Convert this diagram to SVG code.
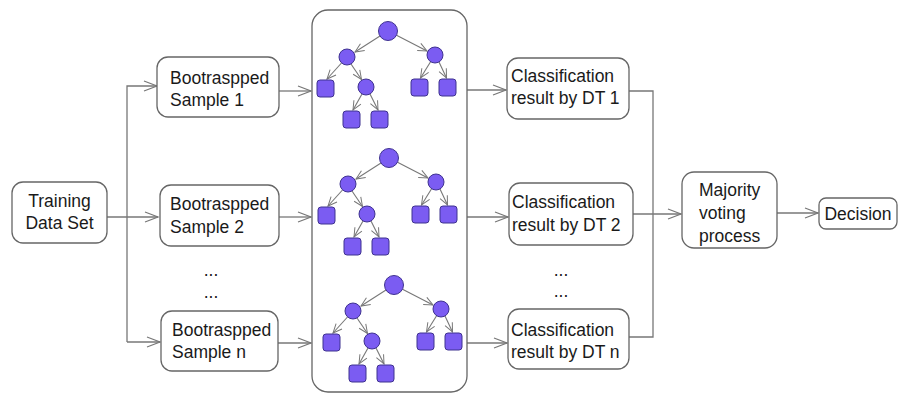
<svg xmlns="http://www.w3.org/2000/svg" xmlns:xlink="http://www.w3.org/1999/xlink" width="901" height="394" viewBox="0 0 901 394">
<style>
.box{fill:#fff;stroke:#666;stroke-width:1.3}
.t{font-family:"Liberation Sans",Arial,sans-serif;font-size:17.5px;fill:#1a1a1a}
.c{fill:none;stroke:#777;stroke-width:1.3}
.e{fill:none;stroke:#777;stroke-width:1.1}
.n{fill:#7b5cf2;stroke:#3f3290;stroke-width:1}
</style>
<defs>
<marker id="a" markerUnits="userSpaceOnUse" markerWidth="16" markerHeight="14" refX="14" refY="6" orient="auto">
<path d="M1,1 L14,6 L1,11" fill="none" stroke="#777" stroke-width="1.2"/>
</marker>
<marker id="s" markerUnits="userSpaceOnUse" markerWidth="12" markerHeight="12" refX="10" refY="5" orient="auto">
<path d="M1,1 L10,5 L1,9" fill="none" stroke="#777" stroke-width="1"/>
</marker>
<g id="tree">
<g class="e" marker-end="url(#s)">
<path d="M380,36 L355,52"/>
<path d="M396.5,35.3 L427,51"/>
<path d="M341.5,63 L327,79"/>
<path d="M351,64 L361.5,79.5"/>
<path d="M362,94 L353,110"/>
<path d="M370,94 L378,110"/>
<path d="M430.6,61.7 L420.5,78"/>
<path d="M439,62 L446.5,78"/>
</g>
<circle class="n" cx="388" cy="31" r="9.5"/>
<circle class="n" cx="347" cy="57" r="8"/>
<circle class="n" cx="435" cy="55" r="8"/>
<circle class="n" cx="366" cy="87" r="8"/>
<rect class="n" x="317" y="80" width="17" height="17" rx="3"/>
<rect class="n" x="343" y="111" width="17" height="17" rx="3"/>
<rect class="n" x="371" y="111" width="17" height="17" rx="3"/>
<rect class="n" x="411" y="79" width="17" height="17" rx="3"/>
<rect class="n" x="439" y="79" width="17" height="17" rx="3"/>
</g>
</defs>

<g id="connectors">
<path class="c" d="M107,217 L158,217" marker-end="url(#a)"/>
<path class="c" d="M127,342 L127,86 L157,86" marker-end="url(#a)"/>
<path class="c" d="M127,342 L160,342" marker-end="url(#a)"/>
<path class="c" d="M279,91 L311,91" marker-end="url(#a)"/>
<path class="c" d="M279,217 L311,217" marker-end="url(#a)"/>
<path class="c" d="M278,343 L311,343" marker-end="url(#a)"/>
<path class="c" d="M467,90 L506,90" marker-end="url(#a)"/>
<path class="c" d="M467,217 L508,217" marker-end="url(#a)"/>
<path class="c" d="M467,343 L507,343" marker-end="url(#a)"/>
<path class="c" d="M629,91 L653,91 L653,337 L629,337"/>
<path class="c" d="M633,214 L681,214" marker-end="url(#a)"/>
<path class="c" d="M777,213 L818,213" marker-end="url(#a)"/>
</g>

<g id="training">
<rect class="box" x="12" y="182" width="95" height="61" rx="11"/>
<text class="t" x="59.5" y="207" text-anchor="middle">Training</text>
<text class="t" x="59.5" y="229" text-anchor="middle">Data Set</text>
</g>

<g id="sample1">
<rect class="box" x="157" y="57" width="122" height="60" rx="11"/>
<text class="t" x="170" y="84">Bootraspped</text>
<text class="t" x="170" y="106">Sample 1</text>
</g>
<g id="sample2">
<rect class="box" x="160" y="185" width="119" height="61" rx="11"/>
<text class="t" x="170" y="210">Bootraspped</text>
<text class="t" x="170" y="233">Sample 2</text>
</g>
<g id="samplen">
<rect class="box" x="161" y="311" width="117" height="60" rx="11"/>
<text class="t" x="172" y="336">Bootraspped</text>
<text class="t" x="172" y="358">Sample n</text>
</g>
<g id="dots1">
<text class="t" x="211" y="276" text-anchor="middle">...</text>
<text class="t" x="211" y="298" text-anchor="middle">...</text>
</g>

<g id="forest">
<rect class="box" x="312" y="10" width="155" height="382" rx="16"/>
<use xlink:href="#tree"/>
<use xlink:href="#tree" transform="translate(1,127)"/>
<use xlink:href="#tree" transform="translate(6,254)"/>
</g>

<g id="class1">
<rect class="box" x="507" y="58" width="122" height="61" rx="11"/>
<text class="t" x="511" y="82">Classification</text>
<text class="t" x="511" y="104">result by DT 1</text>
</g>
<g id="class2">
<rect class="box" x="509" y="183" width="124" height="62" rx="11"/>
<text class="t" x="512" y="208">Classification</text>
<text class="t" x="512" y="231">result by DT 2</text>
</g>
<g id="classn">
<rect class="box" x="508" y="309" width="121" height="60" rx="11"/>
<text class="t" x="511" y="336">Classification</text>
<text class="t" x="511" y="358">result by DT n</text>
</g>
<g id="dots2">
<text class="t" x="561" y="276" text-anchor="middle">...</text>
<text class="t" x="561" y="297" text-anchor="middle">...</text>
</g>

<g id="majority">
<rect class="box" x="682" y="172" width="95" height="76" rx="12"/>
<text class="t" x="699" y="196">Majority</text>
<text class="t" x="699" y="219">voting</text>
<text class="t" x="699" y="242">process</text>
</g>
<g id="decision">
<rect class="box" x="819" y="198" width="78" height="31" rx="7"/>
<text class="t" x="858" y="220" text-anchor="middle">Decision</text>
</g>
</svg>
